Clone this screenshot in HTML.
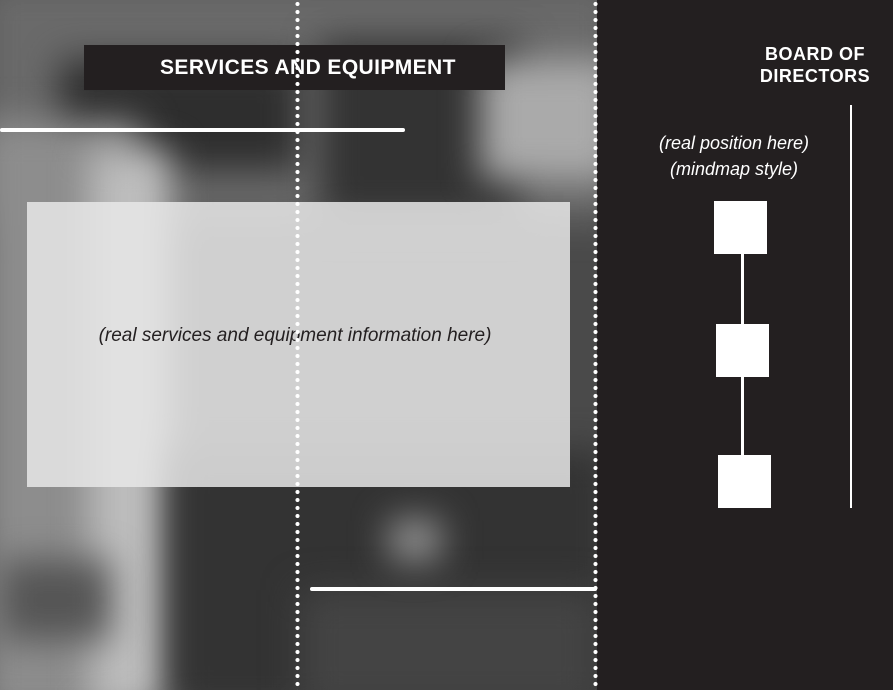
<!DOCTYPE html>
<html><head><style>
body{margin:0;width:893px;height:690px;overflow:hidden;position:relative;background:#555;font-family:"Liberation Sans",sans-serif}
.a{position:absolute}
#bg{position:absolute;left:0;top:0;width:600px;height:690px;overflow:hidden;background:#4a4a4a}
#bg div{position:absolute;filter:blur(18px)}
</style></head><body>
<div id="bg">
<div style="left:-20px;top:-20px;width:640px;height:240px;background:#6a6a6a"></div>
<div style="left:60px;top:60px;width:240px;height:110px;background:#2e2e2e"></div>
<div style="left:320px;top:40px;width:200px;height:180px;background:#333"></div>
<div style="left:480px;top:60px;width:140px;height:120px;background:#aaa"></div>
<div style="left:-20px;top:120px;width:160px;height:600px;background:#8d8d8d"></div>
<div style="left:90px;top:150px;width:80px;height:560px;background:#bdbdbd"></div>
<div style="left:0px;top:560px;width:110px;height:80px;background:#555"></div>
<div style="left:170px;top:450px;width:440px;height:260px;background:#333"></div>
<div style="left:300px;top:590px;width:300px;height:120px;background:#444"></div>
<div style="left:390px;top:520px;width:50px;height:40px;background:#999"></div>
</div>
<div class="a" style="left:27px;top:202px;width:543px;height:285px;background:rgba(232,232,232,0.85)"></div>
<div class="a" style="left:84px;top:45px;width:421px;height:45px;background:#231f20"></div>
<div class="a" style="left:160px;top:45px;width:300px;height:45px;color:#fff;font-weight:bold;font-size:21px;line-height:45px;white-space:nowrap;letter-spacing:0.4px">SERVICES AND EQUIPMENT</div>
<div class="a" style="left:0;top:128px;width:405px;height:4px;background:#fff;border-radius:2px"></div>
<div class="a" style="left:310px;top:587px;width:287px;height:4px;background:#fff;border-radius:2px"></div>
<div class="a" style="left:20px;top:325px;width:550px;text-align:center;font-style:italic;font-size:19px;color:#231f20;padding-left:0">(real services and equipment information here)</div>
<div class="a" style="left:295px;top:0;width:5px;height:690px;background:radial-gradient(circle,#fff 1.8px,transparent 2.3px) 0 0/5px 8px"></div>
<div class="a" style="left:597px;top:0;width:296px;height:690px;background:#231f20"></div>
<div class="a" style="left:593px;top:0;width:5px;height:690px;background:radial-gradient(circle,#fff 1.8px,transparent 2.3px) 0 0/5px 8px"></div>
<div class="a" style="left:745px;top:43px;width:140px;text-align:center;color:#fff;font-weight:bold;font-size:18px;line-height:22px;letter-spacing:0.5px">BOARD OF<br>DIRECTORS</div>
<div class="a" style="left:614px;top:130px;width:240px;text-align:center;color:#fff;font-style:italic;font-size:18px;line-height:26px">(real position here)<br>(mindmap style)</div>
<div class="a" style="left:850px;top:105px;width:2px;height:403px;background:#fff"></div>
<div class="a" style="left:741px;top:250px;width:3px;height:210px;background:#fff"></div>
<div class="a" style="left:714px;top:201px;width:53px;height:53px;background:#fff"></div>
<div class="a" style="left:716px;top:324px;width:53px;height:53px;background:#fff"></div>
<div class="a" style="left:718px;top:455px;width:53px;height:53px;background:#fff"></div>
</body></html>
